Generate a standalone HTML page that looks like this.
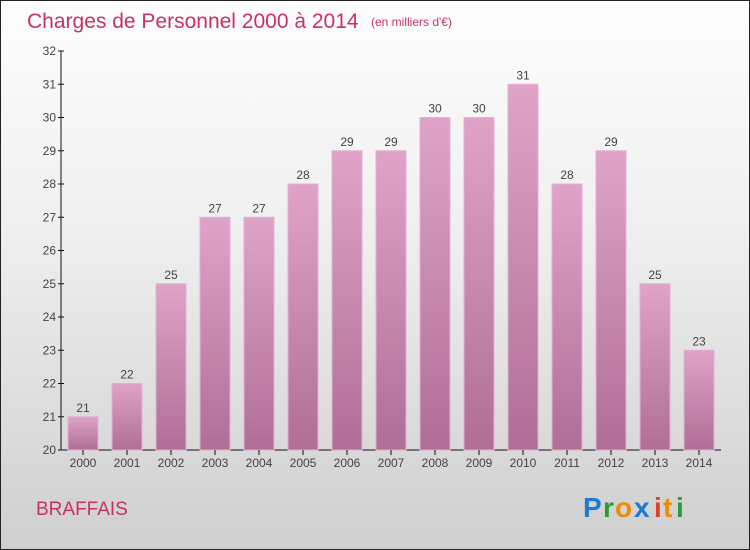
<!DOCTYPE html>
<html><head><meta charset="utf-8"><style>
body{margin:0}
#c{width:748px;height:548px;border:1px solid #222;background:linear-gradient(#fdfdfd,#f0f0f0 40%,#cfcfcf);position:relative;font-family:"Liberation Sans",sans-serif;overflow:hidden}
</style></head><body>
<div id="c">
<svg width="748" height="548" id="s">
<defs><linearGradient id="g" x1="0" y1="0" x2="0" y2="1"><stop offset="0" stop-color="#e0a3c8"/><stop offset="1" stop-color="#b06e96"/></linearGradient></defs>
<text x="26" y="27" font-size="21" fill="#c8325e">Charges de Personnel 2000 à 2014</text>
<text x="370" y="25" font-size="12" fill="#c8325e">(en milliers d'€)</text>
<text x="35" y="514" font-size="19" fill="#c8325e">BRAFFAIS</text>
<g font-size="28" font-family="'Liberation Sans',sans-serif" font-weight="bold">
<text x="582" y="516" fill="#1f78d1">P</text><text x="602" y="516" fill="#2a9a3a">r</text><text x="614" y="516" fill="#f08a00">o</text><text x="633" y="516" fill="#1f78d1">x</text><text x="653" y="516" fill="#e0402a">i</text><text x="662" y="516" fill="#f08a00">t</text><text x="675" y="516" fill="#2a9a3a">i</text></g>
<g id="ax"></g>
</svg></div>
<script>
const years=["2000","2001","2002","2003","2004","2005","2006","2007","2008","2009","2010","2011","2012","2013","2014"];
const values=[21,22,25,27,27,28,29,29,30,30,31,28,29,25,23];
const yTicks=[20,21,22,23,24,25,26,27,28,29,30,31,32];
const NS="http://www.w3.org/2000/svg";
const g=document.getElementById('ax');
const y=v=>449-(v-20)*(399/12);
const x=i=>82+i*44;
function mk(t,a,p){const e=document.createElementNS(NS,t);for(const k in a)e.setAttribute(k,a[k]);(p||g).appendChild(e);return e;}
let l=mk('line',{x1:60,y1:50,x2:60,y2:449,stroke:'#111'});


l=mk('line',{x1:60,y1:449,x2:720,y2:449,stroke:'#111'});


yTicks.forEach(v=>{
 mk('line',{x1:57,x2:63,y1:y(v),y2:y(v),stroke:'#111'});
 const t=mk('text',{x:55,y:y(v)+4,'text-anchor':'end','font-size':12,fill:'#444'});t.textContent=v;
 
 
});
years.forEach((yr,i)=>{
 const b=mk('rect',{x:x(i)-15,y:y(values[i]),width:30,height:449-y(values[i]),fill:'url(#g)',stroke:'#e6b0d2','stroke-width':1});
 
 
 mk('line',{x1:x(i),x2:x(i),y1:449,y2:454,stroke:'#111'});
 const t=mk('text',{x:x(i),y:466,'text-anchor':'middle','font-size':12,fill:'#444'});t.textContent=yr;
 
 
 const v=mk('text',{x:x(i),y:y(values[i])-5,'text-anchor':'middle','font-size':12,fill:'#444'});v.textContent=values[i];
 
 
});
</script>
</body></html>
